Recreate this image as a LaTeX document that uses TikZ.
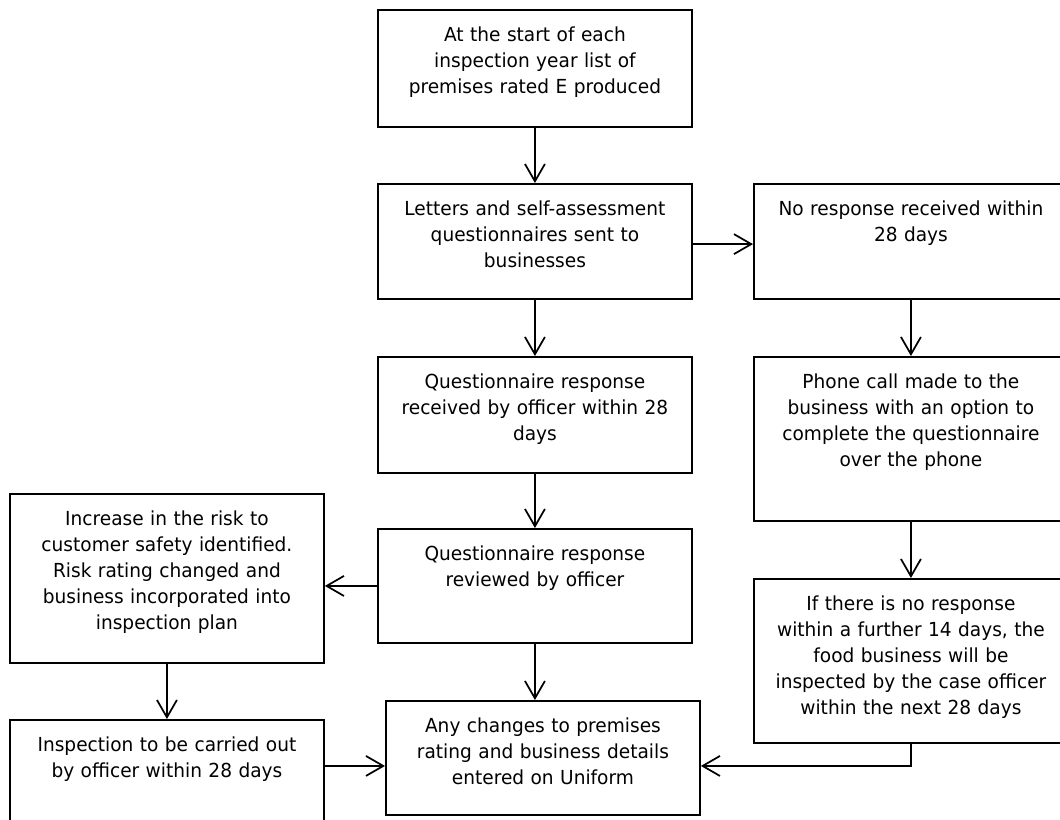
\documentclass[tikz,border=0pt]{standalone}
\usepackage{fontspec}
\setmainfont{DejaVu Sans}[FakeStretch=0.96]
\usetikzlibrary{arrows.meta}

\begin{document}
\begin{tikzpicture}[x=0.75pt,y=-0.75pt,>={Straight Barb[length=13pt,width=15pt]},
    box/.style={draw,rectangle,anchor=north west,line width=1.4pt,
                text width=227.5pt,align=center,inner xsep=4pt,inner ysep=0pt,
                text height=23.8pt,font=\fontsize{14.5}{19.5}\selectfont},
    link/.style={->,line width=1.3pt}]
  \useasboundingbox (0,0) rectangle (1060,819);
  % centre column
  \node (start) at (377,9) [box,text depth=63.95pt]
        {At the start of each\\inspection year list of\\premises rated E produced};
  \node (letters) at (377,183) [box,text depth=62.45pt]
        {Letters and self-assessment\\questionnaires sent to\\businesses};
  \node (received) at (377,356) [box,text depth=63.2pt]
        {Questionnaire response\\received by officer within 28\\days};
  \node (reviewed) at (377,528) [box,text depth=61.7pt]
        {Questionnaire response\\reviewed by officer};
  \node (uniform) at (385,700) [box,text depth=61.7pt]
        {Any changes to premises\\rating and business details\\entered on Uniform};
  % right column
  \node (noresp) at (753,183) [box,text depth=62.45pt]
        {No response received within\\28 days};
  \node (phone) at (753,356) [box,text depth=99.2pt]
        {Phone call made to the\\business with an option to\\complete the questionnaire\\over the phone};
  \node (further) at (753,578) [box,text depth=99.2pt]
        {If there is no response\\within a further 14 days, the\\food business will be\\inspected by the case officer\\within the next 28 days};
  % left column
  \node (increase) at (9,493) [box,text depth=102.95pt]
        {Increase in the risk to\\customer safety identified.\\Risk rating changed and\\business incorporated into\\inspection plan};
  \node (inspect) at (9,719) [box,text depth=62.45pt]
        {Inspection to be carried out\\by officer within 28 days};

  \draw[link] (start.south) -- (letters.north);
  \draw[link] ([yshift=-2pt]letters.east) -- ([yshift=-2pt]noresp.west);
  \draw[link] (letters.south) -- (received.north);
  \draw[link] (received.south) -- (reviewed.north);
  \draw[link] (reviewed.south) -- (reviewed.south |- uniform.north);
  \draw[link] (noresp.south) -- (phone.north);
  \draw[link] (phone.south) -- (further.north);
  \draw[link] (reviewed.west) -- (reviewed.west -| increase.east);
  \draw[link] (increase.south) -- (inspect.north);
  \draw[link] ([yshift=-6pt]uniform.west -| inspect.east) -- ([yshift=-6pt]uniform.west);
  \draw[link] (further.south) |- ([yshift=-6pt]uniform.east);
\end{tikzpicture}
\end{document}
